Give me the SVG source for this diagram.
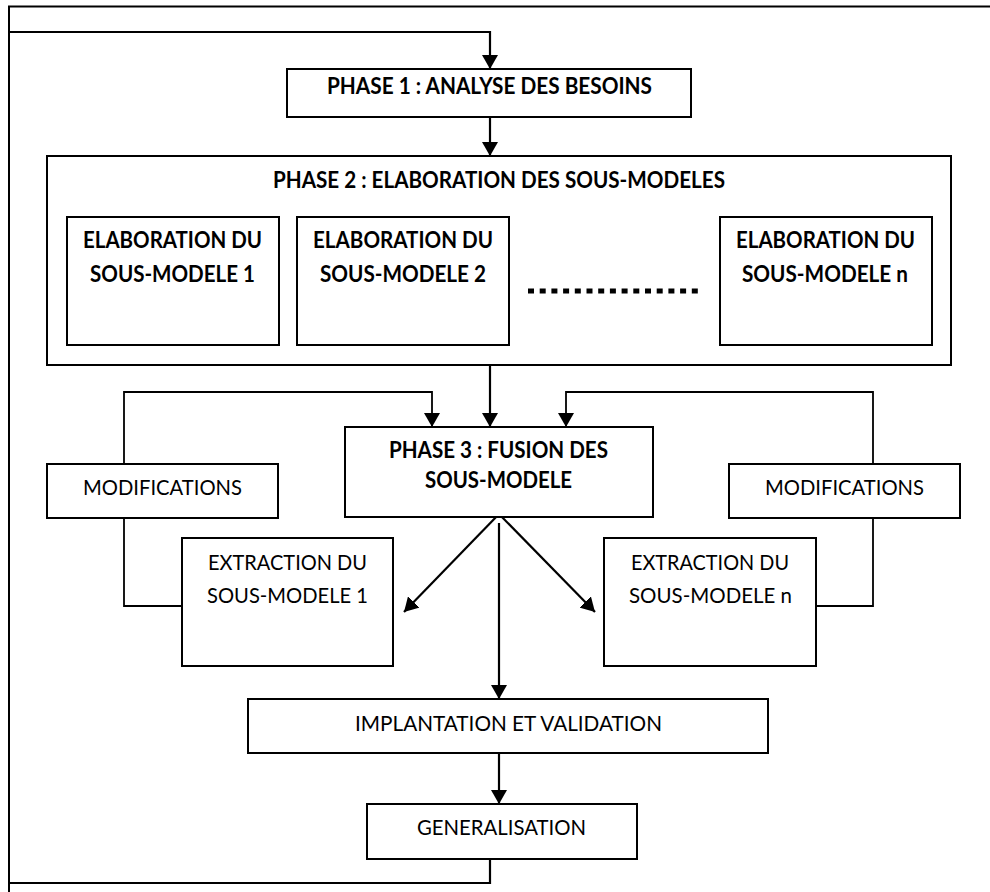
<svg xmlns="http://www.w3.org/2000/svg" width="990" height="892" viewBox="0 0 990 892">
  <style>
    .box { fill: #fff; stroke: #000; stroke-width: 2; }
    .frame { fill: none; stroke: #000; stroke-width: 2; }
    .wire { fill: none; stroke: #000; stroke-width: 2.2; }
    .loop { fill: none; stroke: #000; stroke-width: 1.8; }
    .dots { fill: none; stroke: #000; stroke-width: 5; stroke-dasharray: 6 5.7; }
    text { font-family: Lato, "Open Sans", "Liberation Sans", sans-serif; font-size: 22px; fill: #000; text-anchor: middle; }
    .b { font-weight: bold; }
  </style>
  <defs>
    <marker id="arrow" markerUnits="userSpaceOnUse" markerWidth="16" markerHeight="16" refX="14" refY="8" orient="auto">
      <path d="M0,0 L14,8 L0,16 Z" fill="#000"/>
    </marker>
  </defs>

  <rect width="990" height="892" fill="#fff"/>

  <!-- page frame -->
  <path class="frame" d="M9,892 V6.5 H990"/>

  <g id="connectors">
    <!-- return loop from generalisation back to phase 1 -->
    <path class="wire" d="M490,859 V883 H9"/>
    <path class="wire" d="M9,32 H490 V69" marker-end="url(#arrow)"/>
    <!-- main flow -->
    <path class="wire" d="M490,117 V156" marker-end="url(#arrow)"/>
    <path class="wire" d="M490,365 V427" marker-end="url(#arrow)"/>
    <!-- modifications feedback, left -->
    <path class="loop" d="M124,464 V392 H432 V427" marker-end="url(#arrow)"/>
    <path class="loop" d="M124,518 V606 H182"/>
    <!-- modifications feedback, right -->
    <path class="loop" d="M873,464 V392 H566 V427" marker-end="url(#arrow)"/>
    <path class="loop" d="M873,518 V606 H816"/>
    <!-- fusion outputs -->
    <path class="wire" d="M499,514 L404,612" marker-end="url(#arrow)"/>
    <path class="wire" d="M499,514 L595,612" marker-end="url(#arrow)"/>
    <path class="wire" d="M499,523 V699" marker-end="url(#arrow)"/>
    <path class="wire" d="M499,753 V804" marker-end="url(#arrow)"/>
  </g>

  <g id="phase1">
    <rect class="box" x="287" y="69" width="404" height="48"/>
    <text class="b" x="489.5" y="94" textLength="325" lengthAdjust="spacingAndGlyphs">PHASE 1 : ANALYSE DES BESOINS</text>
  </g>

  <g id="phase2">
    <rect class="box" x="47" y="156" width="904" height="209"/>
    <text class="b" x="499" y="188" textLength="452" lengthAdjust="spacingAndGlyphs">PHASE 2 : ELABORATION DES SOUS-MODELES</text>
  </g>

  <g id="sub1">
    <rect class="box" x="67" y="217" width="212" height="128"/>
    <text class="b" x="172.5" y="248" textLength="179" lengthAdjust="spacingAndGlyphs">ELABORATION DU</text>
    <text class="b" x="172.5" y="282" textLength="165" lengthAdjust="spacingAndGlyphs">SOUS-MODELE 1</text>
  </g>

  <g id="sub2">
    <rect class="box" x="297" y="217" width="212" height="128"/>
    <text class="b" x="403" y="248" textLength="180" lengthAdjust="spacingAndGlyphs">ELABORATION DU</text>
    <text class="b" x="403" y="282" textLength="166" lengthAdjust="spacingAndGlyphs">SOUS-MODELE 2</text>
  </g>

  <g id="ellipsis">
    <path class="dots" d="M528,291 H702"/>
  </g>

  <g id="subn">
    <rect class="box" x="720" y="217" width="212" height="128"/>
    <text class="b" x="825.5" y="248" textLength="179" lengthAdjust="spacingAndGlyphs">ELABORATION DU</text>
    <text class="b" x="825" y="282" textLength="166" lengthAdjust="spacingAndGlyphs">SOUS-MODELE n</text>
  </g>

  <g id="phase3">
    <rect class="box" x="345" y="427" width="308" height="90"/>
    <text class="b" x="498.5" y="458" textLength="219" lengthAdjust="spacingAndGlyphs">PHASE 3 : FUSION DES</text>
    <text class="b" x="498.5" y="488" textLength="147" lengthAdjust="spacingAndGlyphs">SOUS-MODELE</text>
  </g>

  <g id="modif-left">
    <rect class="box" x="47" y="464" width="231" height="54"/>
    <text x="162.5" y="495" textLength="159" lengthAdjust="spacingAndGlyphs">MODIFICATIONS</text>
  </g>

  <g id="modif-right">
    <rect class="box" x="729" y="464" width="231" height="54"/>
    <text x="844.5" y="495" textLength="159" lengthAdjust="spacingAndGlyphs">MODIFICATIONS</text>
  </g>

  <g id="extract1">
    <rect class="box" x="182" y="538" width="211" height="128"/>
    <text x="287.5" y="570" textLength="159" lengthAdjust="spacingAndGlyphs">EXTRACTION DU</text>
    <text x="287.5" y="603" textLength="161" lengthAdjust="spacingAndGlyphs">SOUS-MODELE 1</text>
  </g>

  <g id="extractn">
    <rect class="box" x="604" y="538" width="212" height="128"/>
    <text x="710" y="570" textLength="158" lengthAdjust="spacingAndGlyphs">EXTRACTION DU</text>
    <text x="710.5" y="603" textLength="163" lengthAdjust="spacingAndGlyphs">SOUS-MODELE n</text>
  </g>

  <g id="implantation">
    <rect class="box" x="248" y="699" width="520" height="54"/>
    <text x="508.5" y="731" textLength="307" lengthAdjust="spacingAndGlyphs">IMPLANTATION ET VALIDATION</text>
  </g>

  <g id="generalisation">
    <rect class="box" x="367" y="804" width="270" height="55"/>
    <text x="501.5" y="835" textLength="169" lengthAdjust="spacingAndGlyphs">GENERALISATION</text>
  </g>
</svg>
